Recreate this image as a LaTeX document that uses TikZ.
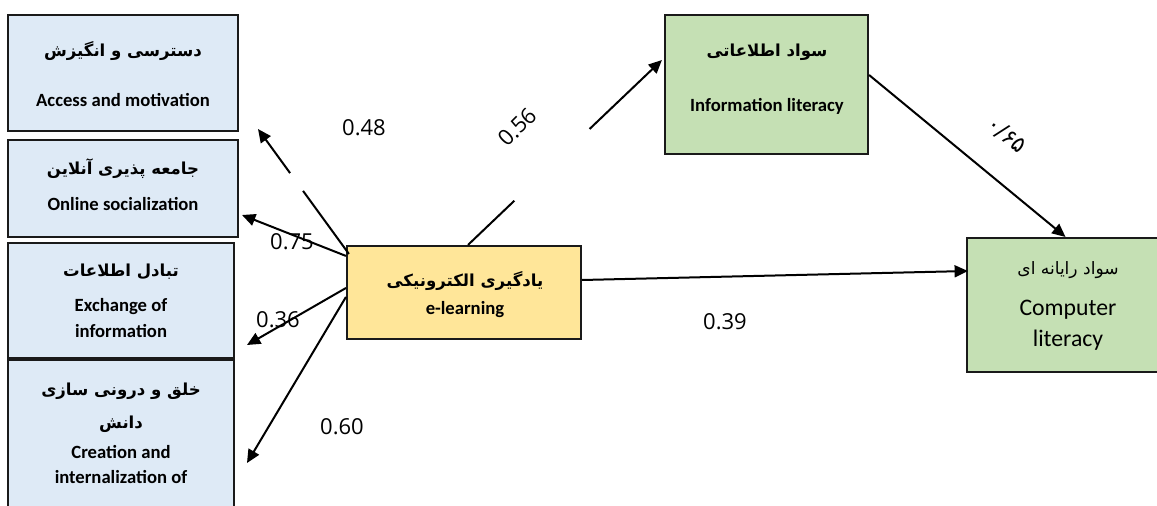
\documentclass[tikz,border=0pt]{standalone}
\usepackage{fontspec}
\setmainfont{Carlito}
\newfontfamily\fa[Script=Arabic]{DejaVu Sans}
\newfontfamily\numfont{Open Sans}
\TeXXeTstate=1
\usetikzlibrary{arrows.meta,fit,calc}
\definecolor{boxblue}{HTML}{DEEAF6}
\definecolor{boxyellow}{HTML}{FFE699}
\definecolor{boxgreen}{HTML}{C5E0B4}
\definecolor{edge}{HTML}{1A1A1A}

\begin{document}
\begin{tikzpicture}[x=0.75pt,y=-0.75pt,
  box/.style={draw=edge, line width=1.6pt, inner sep=0pt},
  fatitle/.style={font=\fa\bfseries\fontsize{12.4}{15}\selectfont, inner sep=0pt},
  faplain/.style={font=\fa\fontsize{12.8}{15}\selectfont, inner sep=0pt},
  entitle/.style={font=\bfseries\fontsize{14}{17}\selectfont, inner sep=0pt},
  enplain/.style={font=\fontsize{17.8}{21}\selectfont, inner sep=0pt},
  coef/.style={font=\numfont\fontsize{16.5}{20}\selectfont, inner sep=0pt},
  arr/.style={draw=black, line width=1.5pt, -{Triangle[length=10pt,width=9pt]}},
]
\useasboundingbox (0,0) rectangle (1157,506);
\clip (0,0) rectangle (1157,506);

% dimension boxes on the left
\node[box, fill=boxblue, fit={(8,15) (238,131)}] (b1) {};
\node[box, fill=boxblue, fit={(8,140) (238,237)}] (b2) {};
\node[box, fill=boxblue, fit={(8,243) (234,358)}] (b3) {};
\node[box, fill=boxblue, fit={(8,360) (234,540)}] (b4) {};

% central construct
\node[box, fill=boxyellow, fit={(347,246) (581,339)}] (el) {};

% outcome constructs
\node[box, fill=boxgreen, fit={(665,15) (868,154)}] (info) {};
\node[box, fill=boxgreen, fit={(967,238) (1170,372)}] (comp) {};

% box texts
\node[fatitle] (b1fa) at (123,51) {\beginR دسترسی و انگیزش\endR};
\node[entitle] (b1en) at (123,100) {Access and motivation};

\node[fatitle] (b2fa) at (123,169) {\beginR جامعه پذیری آنلاین\endR};
\node[entitle] (b2en) at (123,204) {Online socialization};

\node[fatitle] (b3fa) at (121,272) {\beginR تبادل اطلاعات\endR};
\node[entitle] (b3en1) at (121,307) {Exchange of};
\node[entitle] (b3en2) at (121,331) {information};

\node[fatitle] (b4fa1) at (121,391) {\beginR خلق و درونی سازی\endR};
\node[fatitle] (b4fa2) at (121,424) {\beginR دانش\endR};
\node[entitle] (b4en1) at (121,452) {Creation and};
\node[entitle] (b4en2) at (121,477) {internalization of};

\node[fatitle] (elfa) at (465,281) {\beginR یادگیری الکترونیکی\endR};
\node[entitle] (elen) at (465,310) {e-learning};

\node[fatitle] (infofa) at (767,52) {\beginR سواد اطلاعاتی\endR};
\node[entitle] (infoen) at (767,106) {Information literacy};

\node[faplain] (compfa) at (1068,270) {\beginR سواد رایانه ای\endR};
\node[enplain] (compen1) at (1068,310) {Computer};
\node[enplain] (compen2) at (1068,340) {literacy};

% arrow ends
\coordinate (t48) at (258,129);
\coordinate (t75) at (242,215);
\coordinate (t36) at (247,345);
\coordinate (t60) at (247,463);

% paths
\draw[arr, dash pattern=on 58.5pt off 16.5pt on 300pt] ($(el.north west)+(3,9)$) -- (t48);
\draw[arr] ($(el.north west)+(0,11)$) -- (t75);
\draw[arr] ($(el.west)+(0,-4.5)$) -- (t36);
\draw[arr] ($(el.west)+(0,4.5)$) -- (t60);
\draw[arr, dash pattern=on 48pt off 78pt on 300pt] ($(el.north)+(4,0)$) -- ($(info.west)+(-2,-24.5)$);
\draw[arr] ($(info.east)+(0,-9.5)$) -- ($(comp.north)+(-3,0)$);
\draw[arr] ($(el.east)+(0,-12.5)$) -- ($(comp.west)+(2,-34)$);

% path coefficients
\node[coef] (c48) at (364,128) {0.48};
\node[coef, rotate=45] (c56) at (517,127) {0.56};
\node[coef] (c75) at (292,242) {0.75};
\node[coef] (c36) at (278,320) {0.36};
\node[coef] (c60) at (342,427) {0.60};
\node[coef] (c39) at (725,322) {0.39};
\node[coef, font=\fa\fontsize{17}{20}\selectfont, rotate=-40] (c65) at (1007,135) {۰/۶۵};
\end{tikzpicture}
\end{document}
